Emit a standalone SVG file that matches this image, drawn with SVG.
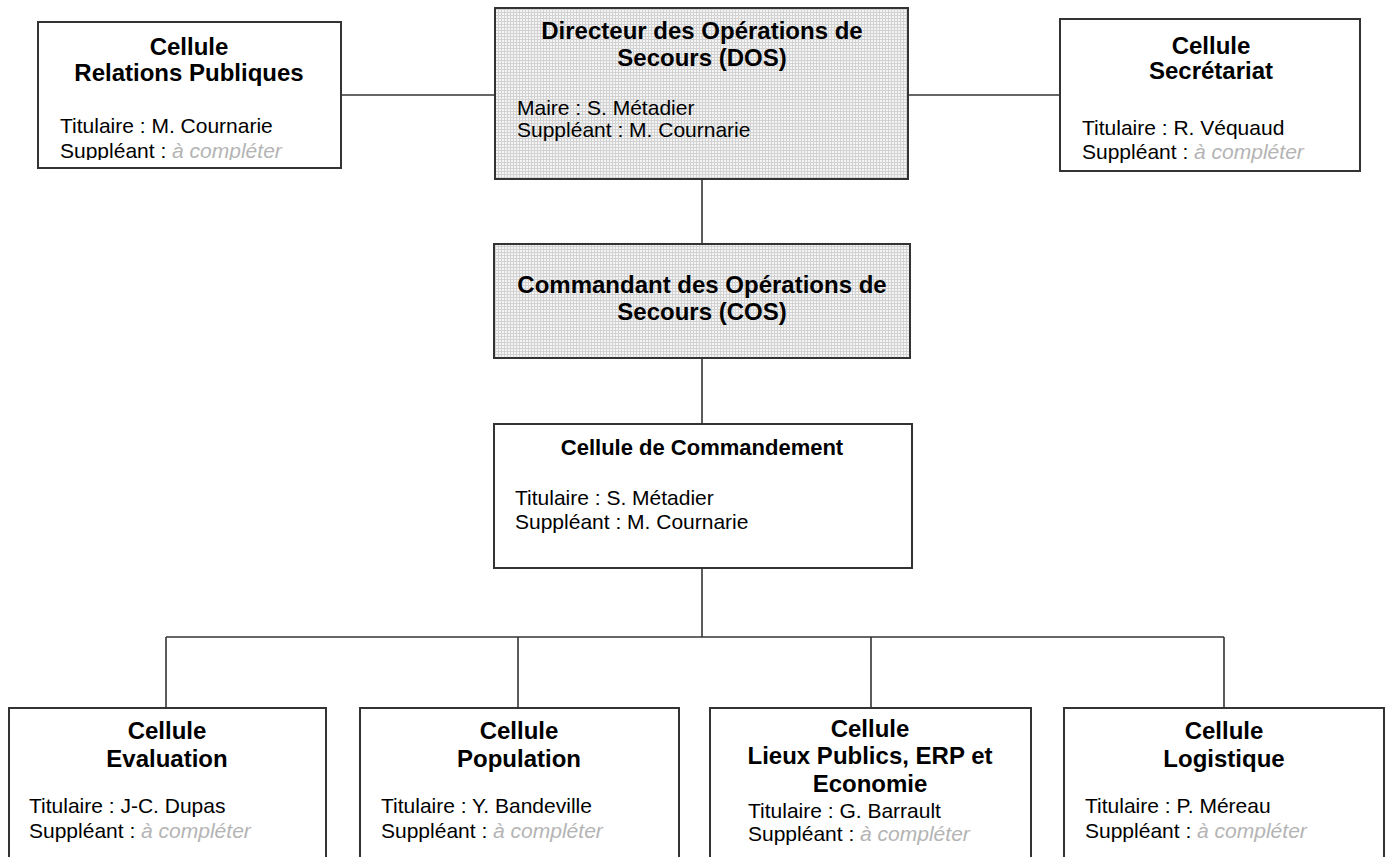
<svg xmlns="http://www.w3.org/2000/svg" width="1387" height="857" viewBox="0 0 1387 857">
<style>
.box{fill:#fff;stroke:#333;stroke-width:2}
.shade{fill:url(#grid);stroke:#333;stroke-width:2}
.t{font-family:"Liberation Sans",Arial,sans-serif;font-weight:bold;font-size:24px;fill:#000;text-anchor:middle}
.tc{font-family:"Liberation Sans",Arial,sans-serif;font-weight:bold;font-size:22px;fill:#000;text-anchor:middle}
.r{font-family:"Liberation Sans",Arial,sans-serif;font-size:21px;fill:#000}
.g{fill:#b4b4b4;font-style:italic}
.ln{stroke:#333;stroke-width:1.6;fill:none}
</style>
<defs>
<pattern id="grid" width="3" height="3" patternUnits="userSpaceOnUse">
<rect width="3" height="3" fill="#f4f4f4"/>
<path d="M0 0.5H3M0.5 0V3" stroke="#d2d2d2" stroke-width="1"/>
</pattern>
<clipPath id="clipRP"><rect x="38" y="22" width="303" height="138"/></clipPath>
</defs>
<rect width="1387" height="857" fill="#fff"/>
<g id="connectors">
<line class="ln" x1="341" y1="95" x2="495" y2="95"/>
<line class="ln" x1="908" y1="95" x2="1060" y2="95"/>
<line class="ln" x1="702" y1="179" x2="702" y2="244"/>
<line class="ln" x1="702" y1="358" x2="702" y2="424"/>
<line class="ln" x1="702" y1="568" x2="702" y2="637" stroke-width="2.4"/>
<line class="ln" x1="166" y1="637" x2="1224" y2="637"/>
<line class="ln" x1="166" y1="637" x2="166" y2="708"/>
<line class="ln" x1="518" y1="637" x2="518" y2="708"/>
<line class="ln" x1="871" y1="637" x2="871" y2="708"/>
<line class="ln" x1="1224" y1="637" x2="1224" y2="708"/>
</g>
<g id="relations-publiques">
<rect class="box" x="38" y="22" width="303" height="146"/>
<text class="t" x="189" y="55">Cellule</text>
<text class="t" x="189" y="81">Relations Publiques</text>
<g clip-path="url(#clipRP)">
<text class="r" x="60" y="133">Titulaire : M. Cournarie</text>
<text class="r" x="60" y="158">Suppléant : <tspan class="g">à compléter</tspan></text>
</g>
</g>
<g id="dos">
<rect class="shade" x="495" y="8" width="413" height="171"/>
<text class="t" x="702" y="39">Directeur des Opérations de</text>
<text class="t" x="702" y="66">Secours (DOS)</text>
<text class="r" x="517" y="115">Maire : S. Métadier</text>
<text class="r" x="517" y="137">Suppléant : M. Cournarie</text>
</g>
<g id="secretariat">
<rect class="box" x="1060" y="19" width="300" height="152"/>
<text class="t" x="1211" y="54">Cellule</text>
<text class="t" x="1211" y="79">Secrétariat</text>
<text class="r" x="1082" y="135">Titulaire : R. Véquaud</text>
<text class="r" x="1082" y="159">Suppléant : <tspan class="g">à compléter</tspan></text>
</g>
<g id="cos">
<rect class="shade" x="494" y="244" width="416" height="114"/>
<text class="t" x="702" y="293">Commandant des Opérations de</text>
<text class="t" x="702" y="320">Secours (COS)</text>
</g>
<g id="commandement">
<rect class="box" x="494" y="424" width="418" height="144"/>
<text class="tc" x="702" y="455">Cellule de Commandement</text>
<text class="r" x="515" y="505">Titulaire : S. Métadier</text>
<text class="r" x="515" y="529">Suppléant : M. Cournarie</text>
</g>
<g id="evaluation">
<rect class="box" x="9" y="708" width="317" height="170"/>
<text class="t" x="167" y="739">Cellule</text>
<text class="t" x="167" y="767">Evaluation</text>
<text class="r" x="29" y="813">Titulaire : J-C. Dupas</text>
<text class="r" x="29" y="838">Suppléant : <tspan class="g">à compléter</tspan></text>
</g>
<g id="population">
<rect class="box" x="360" y="708" width="319" height="170"/>
<text class="t" x="519" y="739">Cellule</text>
<text class="t" x="519" y="767">Population</text>
<text class="r" x="381" y="813">Titulaire : Y. Bandeville</text>
<text class="r" x="381" y="838">Suppléant : <tspan class="g">à compléter</tspan></text>
</g>
<g id="lieux-publics">
<rect class="box" x="710" y="708" width="321" height="170"/>
<text class="t" x="870" y="737">Cellule</text>
<text class="t" x="870" y="764">Lieux Publics, ERP et</text>
<text class="t" x="870" y="792">Economie</text>
<text class="r" x="748" y="818">Titulaire : G. Barrault</text>
<text class="r" x="748" y="841">Suppléant : <tspan class="g">à compléter</tspan></text>
</g>
<g id="logistique">
<rect class="box" x="1064" y="708" width="320" height="170"/>
<text class="t" x="1224" y="739">Cellule</text>
<text class="t" x="1224" y="767">Logistique</text>
<text class="r" x="1085" y="813">Titulaire : P. Méreau</text>
<text class="r" x="1085" y="838">Suppléant : <tspan class="g">à compléter</tspan></text>
</g>
</svg>
